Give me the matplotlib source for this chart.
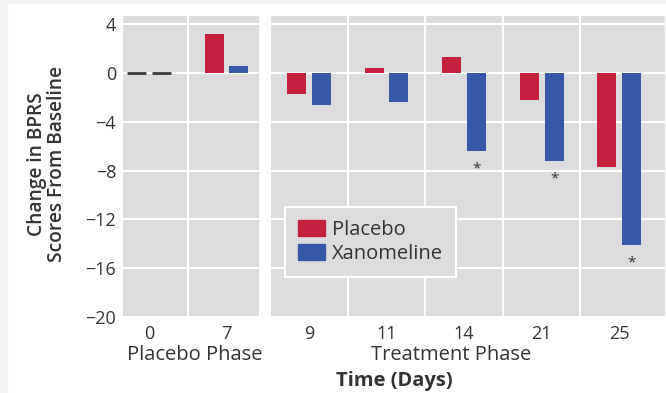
import matplotlib.pyplot as plt
from matplotlib.patches import Rectangle

# Change in BPRS score from baseline by study day
placebo_days = ["0", "7"]
treatment_days = ["9", "11", "14", "21", "25"]
placebo_run_in = [0.0, 3.2]
xanomeline_run_in = [0.0, 0.6]
placebo_treat = [-1.7, 0.4, 1.3, -2.2, -7.7]
xanomeline_treat = [-2.6, -2.4, -6.4, -7.2, -14.1]
significant = [False, False, True, True, True]  # xanomeline vs placebo
yticks = [4, 0, -4, -8, -12, -16, -20]

RED = "#c4213f"
BLUE = "#3757a8"
PANEL = "#dcdcde"
TEXT = "#333333"
FONT = "Open Sans"

plt.rcParams["font.family"] = [FONT, "DejaVu Sans"]

W, H = 666, 393
fig = plt.figure(figsize=(W / 100, H / 100), dpi=100, facecolor="white")

# light grey page edge on the top and left
fig.patches.append(Rectangle((0, 1 - 3 / H), 1, 3 / H, transform=fig.transFigure,
                             color="#f3f2f0", zorder=0))
fig.patches.append(Rectangle((0, 0), 7 / W, 1, transform=fig.transFigure,
                             color="#f3f2f0", zorder=0))


def px_axes(x0, x1, y0, y1):
    return fig.add_axes([x0 / W, 1 - y1 / H, (x1 - x0) / W, (y1 - y0) / H])


ax_l = px_axes(123, 259, 16, 317)
ax_r = px_axes(271, 665, 16, 317)

bw = 0.245
off = 0.16


def style(ax, labels, xlim, show_y):
    ax.set_facecolor(PANEL)
    for s in ax.spines.values():
        s.set_visible(False)
    ax.set_ylim(-20, 4.66)
    ax.set_xlim(*xlim)
    ax.set_yticks(yticks)
    ax.set_yticklabels([str(t).replace("-", "\u2212") for t in yticks] if show_y else [])
    ax.set_xticks(range(len(labels)))
    ax.set_xticklabels(labels)
    ax.tick_params(length=0, labelsize=13, colors=TEXT, pad=6)
    ax.tick_params(axis="y", pad=5)
    for y in yticks:
        ax.axhline(y, color="white", lw=1.5, zorder=1)
    for i in range(len(labels) - 1):
        ax.axvline(i + 0.5, color="white", lw=1.5, zorder=1)


style(ax_l, placebo_days, (-0.34, 1.42), True)
style(ax_r, treatment_days, (-0.49, 4.59), False)


def draw_bars(ax, pvals, xvals):
    for i, (p, x) in enumerate(zip(pvals, xvals)):
        if p == 0 and x == 0:
            # no change at baseline: short dark dashes on the zero line
            ax.hlines(0, i - off - bw / 2, i - off + bw / 2, color="#3a3a3a", lw=2, zorder=3)
            ax.hlines(0, i + off - bw / 2, i + off + bw / 2, color="#3a3a3a", lw=2, zorder=3)
            continue
        ax.bar(i - off, p, bw, color=RED, zorder=2)
        ax.bar(i + off, x, bw, color=BLUE, zorder=2)


draw_bars(ax_l, placebo_run_in, xanomeline_run_in)
draw_bars(ax_r, placebo_treat, xanomeline_treat)

for i, (x, sig) in enumerate(zip(xanomeline_treat, significant)):
    if sig:
        ax_r.annotate("*", (i + off, x), xytext=(0, -13), textcoords="offset points",
                      ha="center", va="center", fontsize=11, color=TEXT)

handles = [Rectangle((0, 0), 1, 1, color=RED), Rectangle((0, 0), 1, 1, color=BLUE)]
leg = ax_r.legend(handles, ["Placebo", "Xanomeline"], loc="upper left",
                  bbox_to_anchor=(14 / 394, 1 - 191 / 301), borderaxespad=0,
                  frameon=True, fontsize=14.5,
                  handlelength=1.35, handleheight=0.85, handletextpad=0.35,
                  labelspacing=0.2, borderpad=0.65, labelcolor=TEXT)
leg.get_frame().set_facecolor(PANEL)
leg.get_frame().set_edgecolor("white")
leg.get_frame().set_linewidth(1.5)
leg.get_frame().set_boxstyle("square", pad=0)
leg.get_frame().set_alpha(1)

# phase labels, axis title and y label
fig.text(195 / W, 1 - 355 / H, "Placebo Phase", ha="center", va="center",
         fontsize=14.5, color=TEXT)
fig.text(451 / W, 1 - 355 / H, "Treatment Phase", ha="center", va="center",
         fontsize=14.5, color=TEXT)
fig.text(394 / W, 1 - 381 / H, "Time (Days)", ha="center", va="center",
         fontsize=14.5, color=TEXT, fontweight="bold")
fig.text(47 / W, 1 - 164 / H, "Change in BPRS\nScores From Baseline", ha="center",
         va="center", rotation=90, fontsize=13.8, color=TEXT, fontweight="semibold",
         linespacing=1.05, multialignment="center")

fig.savefig("out.png", dpi=100, facecolor="white")
